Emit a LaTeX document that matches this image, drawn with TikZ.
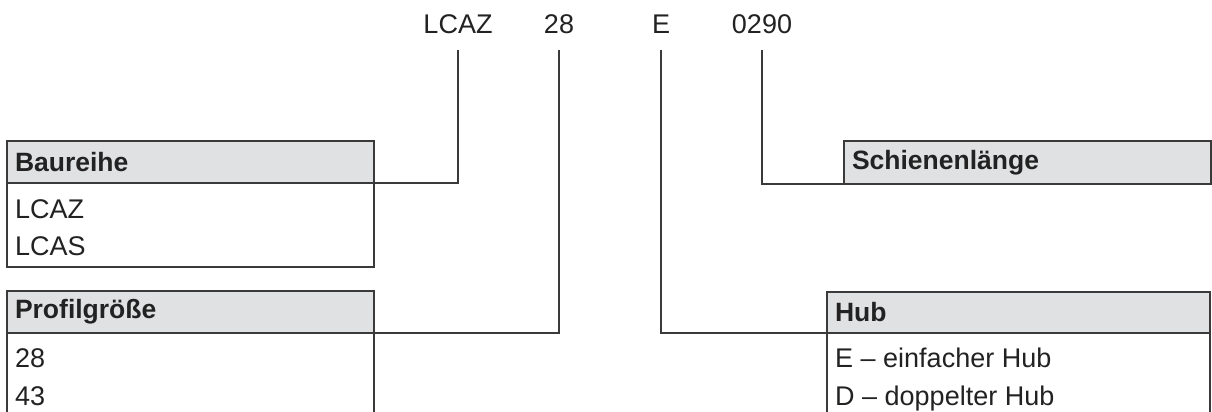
\documentclass[tikz,border=0pt]{standalone}
\usepackage{fontspec}
\setmainfont{Liberation Sans}
\definecolor{linecol}{HTML}{3A3A3A}
\definecolor{headfill}{HTML}{E0E1E3}
\definecolor{txtcol}{HTML}{222222}
\begin{document}
\begin{tikzpicture}[x=1pt,y=-1pt,
  box/.style={draw=linecol,line width=1.5pt,anchor=north west,inner sep=0pt,outer sep=0pt},
  headbox/.style={box,fill=headfill,minimum height=42pt,text width=#1-16pt,minimum width=#1,inner xsep=8pt,align=left,font=\fontsize{26.5}{30}\selectfont\bfseries,text=txtcol},
  bodybox/.style={box,fill=white},
  item/.style={anchor=base west,inner sep=0pt,font=\fontsize{27}{30}\selectfont,text=txtcol},
  code/.style={anchor=base,inner sep=0pt,text depth=0pt,font=\fontsize{27}{30}\selectfont,text=txtcol},
  conn/.style={draw=linecol,line width=1.5pt}]
\useasboundingbox (0,0) rectangle (1212,412);
\clip (0,0) rectangle (1212,412);
\fill[white] (0,0) rectangle (1212,412);
% codes
\node[code] (cL) at (458,34) {LCAZ};
\node[code] (c28) at (559,34) {28};
\node[code] (cE) at (661,34) {E};
\node[code] (c0290) at (762,34) {0290};
% Baureihe
\node[bodybox,minimum width=367pt,minimum height=84pt] (bb) at (7,183) {};
\node[headbox=367pt] (bh) at (7,141) {Baureihe};
\node[item] (b1) at (15,218) {LCAZ};
\node[item] (b2) at (15,255) {LCAS};
% Profilgroesse
\node[bodybox,minimum width=367pt,minimum height=100pt] (pb) at (7,333) {};
\node[headbox=367pt] (ph) at (7,291) {Profilgröße};
\node[item] (p1) at (15,367) {28};
\node[item] (p2) at (15,405) {43};
% Schienenlaenge
\node[headbox=367pt,minimum height=43pt] (sh) at (844,141) {Schienenlänge};
% Hub
\node[bodybox,minimum width=383pt,minimum height=100pt] (hb) at (827,333) {};
\node[headbox=383pt,minimum height=41pt] (hh) at (827,292) {Hub};
\node[item] (h1) at (835,367) {E – einfacher Hub};
\node[item] (h2) at (835,405) {D – doppelter Hub};
% connectors
\draw[conn] (bh.south east) -| ([yshift=-16pt]cL.south);
\draw[conn] (ph.south east) -| ([yshift=-16pt]c28.south);
\draw[conn] ([yshift=-16pt]cE.south) |- (hh.south west);
\draw[conn] ([yshift=-16pt]c0290.south) |- (sh.south west);
\end{tikzpicture}
\end{document}
